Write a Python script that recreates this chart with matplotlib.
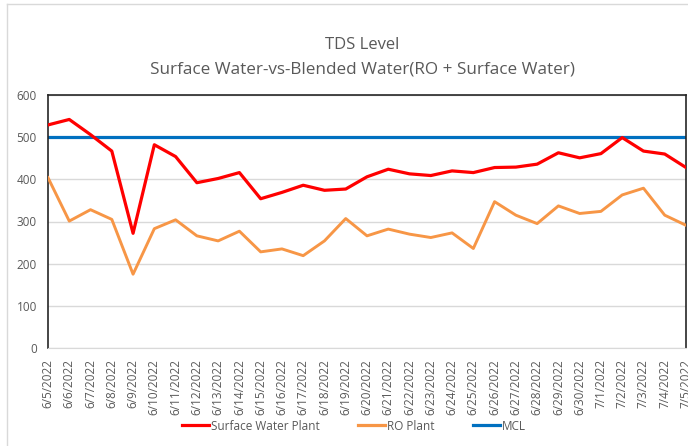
import matplotlib
matplotlib.use("Agg")
import matplotlib.pyplot as plt
from matplotlib.lines import Line2D

dates = ["6/5/2022", "6/6/2022", "6/7/2022", "6/8/2022", "6/9/2022", "6/10/2022",
         "6/11/2022", "6/12/2022", "6/13/2022", "6/14/2022", "6/15/2022", "6/16/2022",
         "6/17/2022", "6/18/2022", "6/19/2022", "6/20/2022", "6/21/2022", "6/22/2022",
         "6/23/2022", "6/24/2022", "6/25/2022", "6/26/2022", "6/27/2022", "6/28/2022",
         "6/29/2022", "6/30/2022", "7/1/2022", "7/2/2022", "7/3/2022", "7/4/2022",
         "7/5/2022"]
surface = [529, 542, 506, 467, 272, 482, 454, 392, 402, 416, 354, 369, 386, 374, 377,
           406, 424, 413, 409, 420, 416, 428, 429, 436, 463, 451, 461, 499, 467, 460, 428]
ro_plant = [404, 301, 328, 305, 175, 283, 304, 266, 254, 277, 228, 235, 219, 254, 307,
            266, 282, 270, 262, 273, 236, 347, 315, 295, 337, 319, 324, 363, 379, 315, 291]
mcl = [500] * len(dates)

plt.rcParams['font.family'] = ['Open Sans', 'DejaVu Sans']
txt = '#595959'

fig = plt.figure(figsize=(6.88, 4.46), dpi=100)
ax = fig.add_axes([48/688, 1-348/446, (686-48)/688, (348-95)/446])

x = list(range(len(dates)))
ax.plot(x, surface, color='#FF0000', lw=2.3, label='Surface Water Plant', solid_joinstyle='round', zorder=4)
ax.plot(x, ro_plant, color='#F79646', lw=2.1, label='RO Plant', solid_joinstyle='round', zorder=3)
ax.plot(x, mcl, color='#0070C0', lw=2.3, label='MCL', zorder=2)

ax.set_xlim(0, len(dates)-1)
ax.set_ylim(0, 600)
ax.set_yticks(range(0, 601, 100))
ax.grid(axis='y', color='#D9D9D9', lw=1)
ax.set_axisbelow(True)
ax.set_xticks(x)
ax.set_xticklabels(dates, rotation=90, fontsize=8.5, color=txt)
ax.tick_params(axis='y', labelsize=8.5, labelcolor=txt, length=0, pad=8)
ax.tick_params(axis='x', length=0, pad=8)
for s in ['top', 'left', 'right']:
    ax.spines[s].set_color('#262626')
    ax.spines[s].set_linewidth(1.2)
ax.spines['bottom'].set_color('#D9D9D9')

fig.text(362/688, 1-45/446, 'TDS Level', ha='center', va='center', fontsize=12, color=txt)
fig.text(362/688, 1-70/446, 'Surface Water-vs-Blended Water(RO + Surface Water)',
         ha='center', va='center', fontsize=12.3, color=txt)

handles = [Line2D([], [], color='#FF0000', lw=2.3),
           Line2D([], [], color='#F79646', lw=2.3),
           Line2D([], [], color='#0070C0', lw=2.3)]
fig.legend(handles, ['Surface Water Plant', 'RO Plant', 'MCL'], loc='center',
           bbox_to_anchor=(354/688, 1-426/446), ncol=3, frameon=False,
           fontsize=8.5, labelcolor=txt, handlelength=2.3, handletextpad=0.2,
           columnspacing=3.2)

# outer chart border
fig.add_artist(Line2D([7/688, 7/688], [0, 1-4/446], transform=fig.transFigure, color='#D9D9D9', lw=1))
fig.add_artist(Line2D([7/688, 1], [1-4/446, 1-4/446], transform=fig.transFigure, color='#D9D9D9', lw=1))

fig.savefig('out.png', dpi=100)
